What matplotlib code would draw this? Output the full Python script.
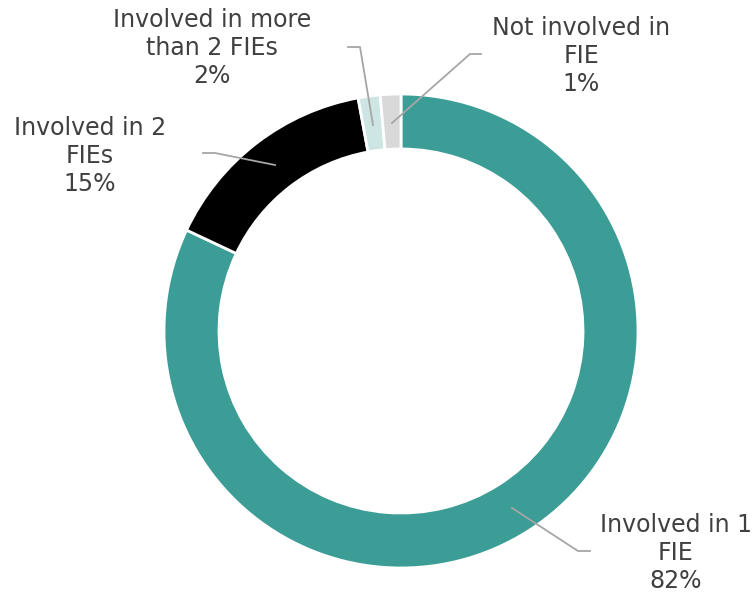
import matplotlib
matplotlib.use("Agg")
import matplotlib.pyplot as plt
from matplotlib.lines import Line2D

categories = ["Involved in 1\nFIE", "Involved in 2\nFIEs", "Involved in more\nthan 2 FIEs", "Not involved in\nFIE"]
values = [82.0, 15.1, 1.5, 1.4]
pct_labels = ["82%", "15%", "2%", "1%"]
colors = ["#3C9D97", "#000000", "#CDE6E4", "#D9D9D9"]

W, H = 755, 594
fig = plt.figure(figsize=(W / 100, H / 100), dpi=100)
cx, cy, R = 401, 331, 237
ax = fig.add_axes([(cx - R) / W, (H - cy - R) / H, 2 * R / W, 2 * R / H])
ax.pie(values, colors=colors, startangle=90, counterclock=False, radius=1.0,
       wedgeprops=dict(width=0.232, edgecolor="white", linewidth=2))
ax.set_xlim(-1, 1)
ax.set_ylim(-1, 1)
ax.set_aspect("equal")
ax.axis("off")

def px(x, y):
    return x / W, 1 - y / H

text_pos = [(676, 553), (90, 156), (212, 48), (581, 56)]
leaders = [
    [(512, 508), (578, 551), (590, 551)],
    [(275, 165), (215, 153), (203, 153)],
    [(373, 125), (360, 47), (348, 47)],
    [(392, 123), (470, 54), (481, 54)],
]
for cat, pct, (tx, ty), pts in zip(categories, pct_labels, text_pos, leaders):
    fx, fy = px(tx, ty)
    fig.text(fx, fy, cat + "\n" + pct, ha="center", va="center", fontsize=17,
             color="#404040", linespacing=1.22, family="DejaVu Sans")
    xs = [px(p[0], p[1])[0] for p in pts]
    ys = [px(p[0], p[1])[1] for p in pts]
    fig.add_artist(Line2D(xs, ys, transform=fig.transFigure, color="#A6A6A6", linewidth=1.3))

fig.savefig("out.png", dpi=100)
